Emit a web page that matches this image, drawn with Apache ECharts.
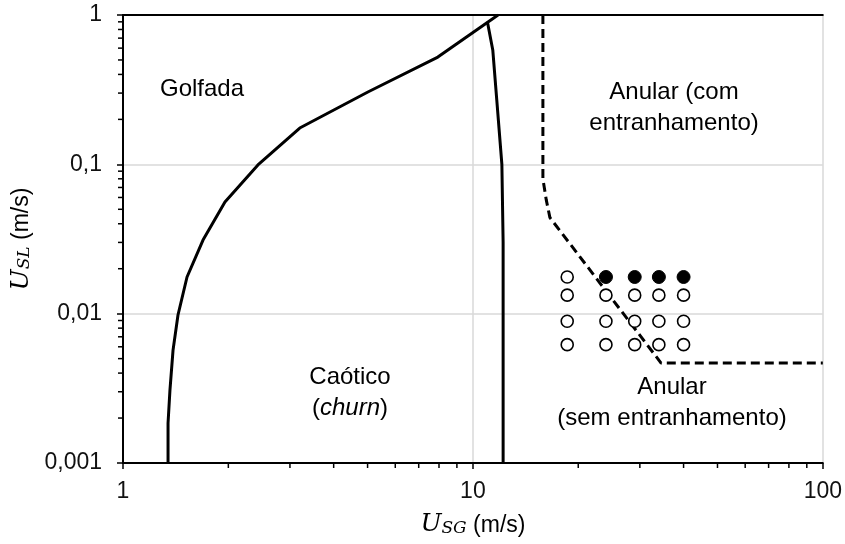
<!DOCTYPE html>
<html>
<head>
<meta charset="utf-8">
<script src="https://cdn.jsdelivr.net/npm/echarts@6/dist/echarts.min.js"></script>
<style>
  html, body { margin: 0; padding: 0; background: #fff; }
  #chart { width: 845px; height: 544px; }
</style>
</head>
<body>
<div id="chart"></div>
<script>
// fronteira golfada / caotico  [U_SG, U_SL]
const slugChurn = [
  [1.345, 0.001], [1.345, 0.00185], [1.362, 0.00308], [1.39, 0.0057],
  [1.436, 0.0098], [1.524, 0.0176], [1.693, 0.0311], [1.956, 0.0559],
  [2.43, 0.099], [3.2, 0.175], [5.01, 0.305], [7.94, 0.523], [11.8, 1]
];
// fronteira caotico / anular
const churnAnnular = [
  [11.0, 0.9], [11.4, 0.58], [11.7, 0.27], [12.1, 0.1], [12.2, 0.03], [12.2, 0.001]
];
// fronteira de entranhamento (tracejada)
const entrainment = [
  [15.85, 1], [15.85, 0.08], [16.2, 0.058], [16.6, 0.044], [34.5, 0.00467], [100, 0.00467]
];
// pontos experimentais
const usgPoints = [18.6, 24, 29, 34, 40];
const uslRows = [0.0176, 0.0133, 0.0089, 0.0062];
const openPoints = [[18.6, 0.0176]];
uslRows.slice(1).forEach(y => usgPoints.forEach(x => openPoints.push([x, y])));
const filledPoints = [[24, 0.0176], [29, 0.0176], [34, 0.0176], [40, 0.0176]];

const xMinor = [2, 3, 4, 5, 6, 7, 8, 9, 20, 30, 40, 50, 60, 70, 80, 90];
const yMinor = [0.002, 0.003, 0.004, 0.005, 0.006, 0.007, 0.008, 0.009,
  0.02, 0.03, 0.04, 0.05, 0.06, 0.07, 0.08, 0.09,
  0.2, 0.3, 0.4, 0.5, 0.6, 0.7, 0.8, 0.9];

const FONT = '"Liberation Sans", Arial, sans-serif';
const FS = 23;
const LFS = 24;
const nameRich = {
  u: { fontFamily: '"DejaVu Serif", serif', fontStyle: 'italic', fontSize: 25, color: '#000', verticalAlign: 'bottom' },
  sub: { fontFamily: '"DejaVu Serif", serif', fontStyle: 'italic', fontSize: 17, color: '#000', padding: [10, 0, 0, 0], verticalAlign: 'bottom' },
  t: { fontFamily: FONT, fontSize: 23, color: '#000', verticalAlign: 'bottom' }
};

const myChart = echarts.init(document.querySelector('#chart'));

const minorTicks = function(dir) {
  return function(params, api) {
    const p = api.coord([api.value(0), api.value(1)]);
    const len = 5;
    const shape = dir === 'x'
      ? { x1: p[0], y1: p[1], x2: p[0], y2: p[1] + len }
      : { x1: p[0], y1: p[1], x2: p[0] - len, y2: p[1] };
    return { type: 'line', shape, style: { stroke: '#000', lineWidth: 1.5 } };
  };
};

const label = (text, x, y, extra) => ({
  type: 'text', x, y,
  style: Object.assign({ text, font: LFS + 'px ' + FONT, fill: '#000', textAlign: 'center', textVerticalAlign: 'middle' }, extra || {})
});

const option = {
  animation: false,
  grid: { left: 123, right: 22, top: 15, bottom: 81 },
  xAxis: [
    {
      type: 'log', logBase: 10, min: 1, max: 100,
      name: '{u|U}{sub|SG}{t| (m/s)}',
      nameLocation: 'middle', nameGap: 47,
      nameTextStyle: { rich: nameRich },
      axisLine: { lineStyle: { color: '#000', width: 2 } },
      axisTick: { show: true, length: 6, lineStyle: { color: '#000', width: 1.5 } },
      axisLabel: { color: '#111', fontSize: FS, fontFamily: FONT, margin: 17 },
      splitLine: { show: true, lineStyle: { color: '#d9d9d9', width: 1.5 } }
    },
    {
      type: 'log', logBase: 10, min: 1, max: 100, position: 'top',
      axisLine: { lineStyle: { color: '#000', width: 2 } },
      axisTick: { show: false }, axisLabel: { show: false }, splitLine: { show: false }
    }
  ],
  yAxis: {
    type: 'log', logBase: 10, min: 0.001, max: 1,
    name: '{u|U}{sub|SL}{t| (m/s)}',
    nameLocation: 'middle', nameGap: 86,
    nameTextStyle: { rich: nameRich },
    axisLine: { show: true, lineStyle: { color: '#000', width: 2 } },
    axisTick: { show: true, length: 6, lineStyle: { color: '#000', width: 1.5 } },
    axisLabel: {
      color: '#111', fontSize: FS, fontFamily: FONT, margin: 21,
      formatter: v => String(Number(v.toPrecision(6))).replace('.', ',')
    },
    splitLine: { show: true, lineStyle: { color: '#d9d9d9', width: 1.5 } }
  },
  graphic: [
    label('Golfada', 202, 89),
    label('Anular (com', 674, 92),
    label('entranhamento)', 674, 123),
    label('Caótico', 350, 377),
    label('({i|churn})', 350, 408, { rich: { i: { fontStyle: 'italic', fontSize: LFS, fontFamily: FONT } } }),
    label('Anular', 672, 387),
    label('(sem entranhamento)', 672, 418)
  ],
  series: [
    { type: 'line', data: slugChurn, symbol: 'none', lineStyle: { color: '#000', width: 3 }, z: 3 },
    { type: 'line', data: churnAnnular, symbol: 'none', lineStyle: { color: '#000', width: 3 }, z: 3 },
    { type: 'line', data: entrainment, symbol: 'none', lineStyle: { color: '#000', width: 3, type: [9, 5] }, z: 3 },
    { type: 'scatter', data: openPoints, symbol: 'circle', symbolSize: 12, itemStyle: { color: '#fff', borderColor: '#000', borderWidth: 1.6, opacity: 1 }, z: 4 },
    { type: 'scatter', data: filledPoints, symbol: 'circle', symbolSize: 13, itemStyle: { color: '#000', borderColor: '#000', borderWidth: 1, opacity: 1 }, z: 4 },
    { type: 'custom', data: xMinor.map(v => [v, 0.001]), renderItem: minorTicks('x'), silent: true, z: 5 },
    { type: 'custom', data: yMinor.map(v => [1, v]), renderItem: minorTicks('y'), silent: true, z: 5 }
  ]
};

myChart.setOption(option);
</script>
</body>
</html>
